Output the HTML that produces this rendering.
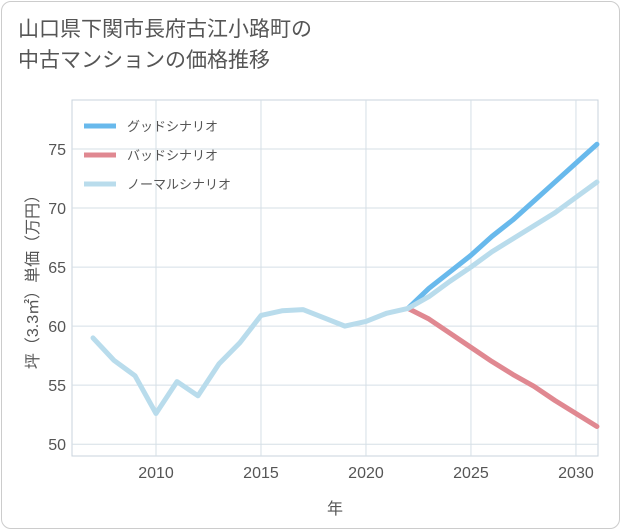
<!DOCTYPE html>
<html><head><meta charset="utf-8">
<style>
body{margin:0;background:#fff;font-family:"Liberation Sans","Noto Sans CJK JP",sans-serif;}
.card{position:absolute;left:1px;top:1px;width:617px;height:526px;border:1px solid #ccc;border-radius:10px;background:#fff;}
.title{position:absolute;left:18px;top:14px;font-size:21px;line-height:31px;color:#555;}
</style></head><body>
<div class="card"></div>
<div class="title">山口県下関市長府古江小路町の<br>中古マンションの価格推移</div>
<svg id="c" width="621" height="530" style="position:absolute;left:0;top:0"></svg>
<script>
const years=[2007,2008,2009,2010,2011,2012,2013,2014,2015,2016,2017,2018,2019,2020,2021,2022];
const hist=[59.0,57.1,55.8,52.6,55.3,54.1,56.8,58.6,60.9,61.3,61.4,60.7,60.0,60.4,61.1,61.5];
const fyears=[2022,2023,2024,2025,2026,2027,2028,2029,2030,2031];
const good=[61.5,63.2,64.6,66.0,67.6,69.0,70.6,72.2,73.8,75.4];
const bad=[61.5,60.6,59.4,58.2,57.0,55.9,54.9,53.7,52.6,51.5];
const normal=[61.5,62.5,63.8,65.0,66.3,67.4,68.5,69.6,70.9,72.2];
const xTicks=[2010,2015,2020,2025,2030];
const yTicks=[50,55,60,65,70,75];
const L=72,R=598,T=100,B=456,x0=2006,x1=2031.05,y0=49.0,y1=79.15;
const X=v=>L+(v-x0)/(x1-x0)*(R-L), Y=v=>B-(v-y0)/(y1-y0)*(B-T);
const s=document.getElementById('c');const NS='http://www.w3.org/2000/svg';
function el(t,a,p){const e=document.createElementNS(NS,t);for(const k in a)e.setAttribute(k,a[k]);(p||s).appendChild(e);return e;}
let r=el('rect',{x:L,y:T,width:R-L,height:B-T,fill:'none',stroke:'#c8d3dc'});

xTicks.forEach(v=>{let g=el('line',{x1:X(v),x2:X(v),y1:T,y2:B,stroke:'#d5dfe6'});
let t=el('text',{x:X(v),y:B+22,'text-anchor':'middle','font-size':16,fill:'#555'});t.textContent=v;});
yTicks.forEach(v=>{let g=el('line',{x1:L,x2:R,y1:Y(v),y2:Y(v),stroke:'#d5dfe6'});
let t=el('text',{x:L-6,y:Y(v)+6,'text-anchor':'end','font-size':16,fill:'#555'});t.textContent=v;});
function line(xs,ys,c,n){let p=el('polyline',{points:xs.map((x,i)=>X(x)+','+Y(ys[i])).join(' '),fill:'none',stroke:c,'stroke-width':5,'stroke-linejoin':'round','stroke-linecap':'round'});}
line(fyears,bad,'#e08891','bad-scenario-line');
line(fyears,good,'#68b9ec','good-scenario-line');
line(fyears,normal,'#b9dcec','normal-scenario-line');
line(years,hist,'#b9dcec','historical-line');
const leg=[['グッドシナリオ','#68b9ec'],['バッドシナリオ','#e08891'],['ノーマルシナリオ','#b9dcec']];
leg.forEach((d,i)=>{const y=126+i*29;let l=el('line',{x1:84,x2:116,y1:y,y2:y,stroke:d[1],'stroke-width':5});
let t=el('text',{x:127,y:y+5,'font-size':13,fill:'#555'});t.textContent=d[0];});
let xt=el('text',{x:(L+R)/2,y:514,'text-anchor':'middle','font-size':16,fill:'#555'});xt.textContent='年';
let yt=el('text',{x:0,y:0,'text-anchor':'middle','font-size':16,fill:'#555',transform:'translate(38,'+((T+B)/2)+') rotate(-90)'});yt.textContent='坪（3.3㎡）単価（万円）';
</script>
</body></html>
